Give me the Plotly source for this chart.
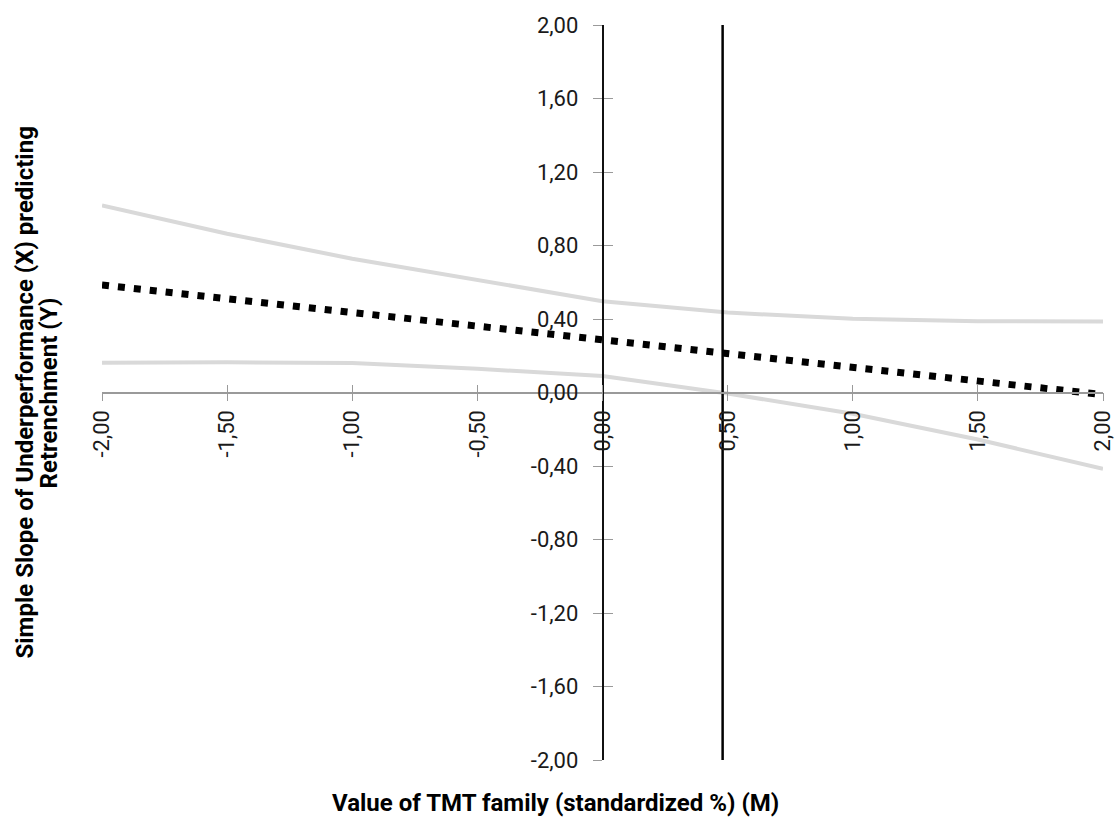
import plotly.graph_objects as go

# ---- data ----
x_pts = [-2.0, -1.5, -1.0, -0.5, 0.0, 0.5, 1.0, 1.5, 2.0]
slope = [0.585, 0.51, 0.435, 0.36, 0.288, 0.215, 0.14, 0.065, -0.012]
upper = [1.018, 0.864, 0.728, 0.61, 0.497, 0.435, 0.401, 0.388, 0.386]
lower = [0.162, 0.165, 0.16, 0.129, 0.09, -0.005, -0.116, -0.256, -0.415]
jn_x = [0.48, 0.48]
jn_y = [-2.0, 2.0]

x_tickvals = [-2.0, -1.5, -1.0, -0.5, 0.0, 0.5, 1.0, 1.5, 2.0]
x_ticktext = ["-2,00", "-1,50", "-1,00", "-0,50", "0,00", "0,50", "1,00", "1,50", "2,00"]
y_tickvals = [-2.0, -1.6, -1.2, -0.8, -0.4, 0.0, 0.4, 0.8, 1.2, 1.6, 2.0]
y_ticktext = ["-2,00", "-1,60", "-1,20", "-0,80", "-0,40", "0,00", "0,40", "0,80", "1,20", "1,60", "2,00"]

x_title = "Value of TMT family (standardized %) (M)"
y_title_lines = ["Simple Slope of Underperformance (X) predicting", "Retrenchment (Y)"]

FONT = "Roboto, sans-serif"
GRAY_BAND = "#d9d9d9"
TICK_GRAY = "#9a9a9a"

fig = go.Figure()
fig.add_trace(go.Scatter(x=x_pts, y=upper, mode="lines",
                         line=dict(color=GRAY_BAND, width=4), showlegend=False))
fig.add_trace(go.Scatter(x=x_pts, y=lower, mode="lines",
                         line=dict(color=GRAY_BAND, width=4), showlegend=False))
fig.add_trace(go.Scatter(x=x_pts, y=slope, mode="lines",
                         line=dict(color="black", width=7, dash="7px,9px"), showlegend=False))
fig.add_trace(go.Scatter(x=jn_x, y=jn_y, mode="lines",
                         line=dict(color="black", width=2.5), showlegend=False))

fig.update_layout(
    width=1116, height=819, autosize=False,
    margin=dict(l=102, r=13, t=25, b=59),
    paper_bgcolor="white", plot_bgcolor="white",
    font=dict(family=FONT, size=22, color="#1a1a1a"),
    xaxis=dict(range=[-2, 2], anchor="free", position=0.5, side="bottom",
               tickvals=x_tickvals, ticktext=x_ticktext, tickangle=-90,
               ticks="outside", ticklen=8, tickcolor=TICK_GRAY, tickwidth=1,
               showline=True, linecolor=TICK_GRAY, linewidth=1.5,
               showgrid=False, zeroline=False, ticklabelstandoff=0,
               ticklabeloverflow="allow", automargin=False),
    xaxis2=dict(range=[-2, 2], overlaying="x", anchor="free", position=0.5, side="bottom",
                tickvals=x_tickvals, showticklabels=False,
                ticks="inside", ticklen=8, tickcolor=TICK_GRAY, tickwidth=1,
                showline=False, showgrid=False, zeroline=False, automargin=False),
    yaxis=dict(range=[-2, 2], anchor="free", position=0.5, side="left",
               tickvals=y_tickvals, ticktext=y_ticktext,
               ticks="outside", ticklen=9, tickcolor=TICK_GRAY, tickwidth=1,
               showline=True, linecolor="#111", linewidth=1.5,
               showgrid=False, zeroline=False, ticklabelstandoff=10,
               ticklabeloverflow="allow", automargin=False),
    yaxis2=dict(range=[-2, 2], overlaying="y", anchor="free", position=0.5, side="left",
                tickvals=y_tickvals, showticklabels=False,
                ticks="inside", ticklen=9, tickcolor=TICK_GRAY, tickwidth=1,
                showline=False, showgrid=False, zeroline=False, automargin=False),
    annotations=[
        dict(text="<b>" + x_title + "</b>", xref="paper", yref="paper",
             x=0.4535, y=-0.0585, xanchor="center", yanchor="middle", showarrow=False,
             font=dict(family=FONT, size=24, color="black")),
        dict(text="<b>" + y_title_lines[0] + "</b>", xref="paper", yref="paper",
             x=-0.0779, y=0.5, xanchor="center", yanchor="middle", showarrow=False,
             textangle=-90, font=dict(family=FONT, size=24, color="black")),
        dict(text="<b>" + y_title_lines[1] + "</b>", xref="paper", yref="paper",
             x=-0.053, y=0.5, xanchor="center", yanchor="middle", showarrow=False,
             textangle=-90, font=dict(family=FONT, size=24, color="black")),
    ],
)
fig.add_trace(go.Scatter(x=[None], y=[None], xaxis="x2", yaxis="y2", showlegend=False))

fig.write_html(
    "out.html",
    config={"responsive": False, "displayModeBar": False},
    post_script="document.body.style.margin='0';document.body.style.overflow='hidden';"
                "document.documentElement.style.overflow='hidden';",
)
